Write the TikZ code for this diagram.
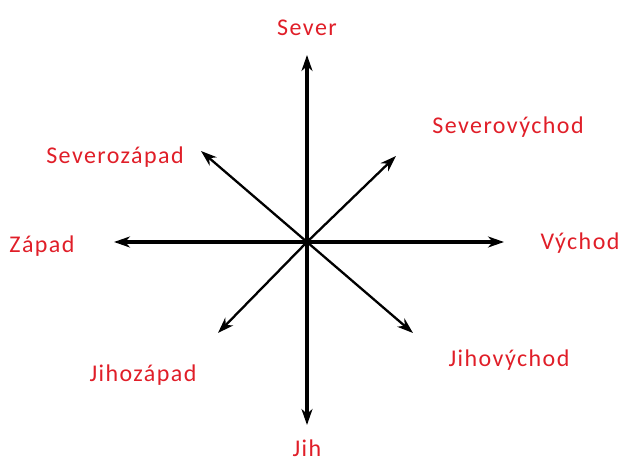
\documentclass[tikz,border=0pt]{standalone}
\usepackage{fontspec}
\setmainfont[LetterSpace=6]{Carlito}
\usetikzlibrary{arrows.meta}
\definecolor{lblred}{HTML}{E01E28}
\begin{document}
\begin{tikzpicture}[x=1pt,y=-1pt,
  lbl/.style={text=lblred,font=\fontsize{24}{27}\selectfont,inner sep=0pt},
  card/.style={line width=3.2pt,-{Stealth[length=16pt,width=11pt,inset=5pt]}},
  diag/.style={line width=2.3pt,-{Stealth[length=16pt,width=11pt,inset=5pt]}}]
\useasboundingbox (0,0) rectangle (622,462);
\coordinate (c) at (307,242);
\coordinate (n) at (307,55);
\coordinate (s) at (307,425);
\coordinate (w) at (114,242);
\coordinate (e) at (504,242);
\coordinate (ne) at (396,156);
\coordinate (nw) at (201,151);
\coordinate (sw) at (218,333);
\coordinate (se) at (413,333);
\draw[card] (c) -- (n);
\draw[card] (c) -- (s);
\draw[card] (c) -- (w);
\draw[card] (c) -- (e);
\draw[diag] (c) -- (ne);
\draw[diag] (c) -- (nw);
\draw[diag] (c) -- (sw);
\draw[diag] (c) -- (se);
\node[lbl] (ln) at (307,28) {Sever};
\node[lbl,anchor=base] (ls) at (307,457) {Jih};
\node[lbl] (lw) at (42,246) {Západ};
\node[lbl] (le) at (580,243) {Východ};
\node[lbl] (lne) at (508,127) {Severovýchod};
\node[lbl] (lnw) at (115,157) {Severozápad};
\node[lbl] (lsw) at (143,375) {Jihozápad};
\node[lbl] (lse) at (509,360) {Jihovýchod};
\end{tikzpicture}
\end{document}
